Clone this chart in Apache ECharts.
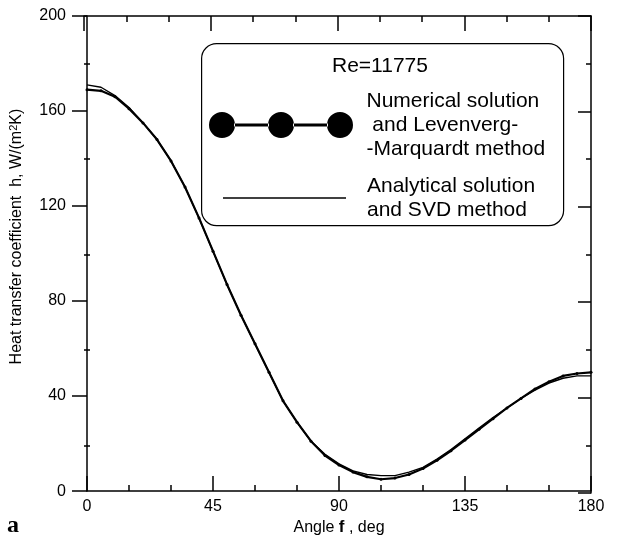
<!DOCTYPE html>
<html lang="en">
<head>
    <meta charset="utf-8">
    <script src="https://cdn.jsdelivr.net/npm/echarts@6/dist/echarts.min.js"></script>
</head>
<body style="margin:0;background:#fff">
<div id="main" style="width: 637px;height:541px;"></div>
<script type="text/javascript">
    // angle, deg
    var angles = [0, 5, 10, 15, 20, 25, 30, 35, 40, 45, 50, 55, 60, 65, 70, 75, 80, 85, 90,
        95, 100, 105, 110, 115, 120, 125, 130, 135, 140, 145, 150, 155, 160, 165, 170, 175, 180];
    // numerical solution + Levenberg-Marquardt
    var hNumerical = [169, 168.5, 166, 161, 155, 148, 139, 128, 115, 101, 87, 74, 62, 50, 38, 29, 21, 15, 11,
        8, 6, 5, 5.5, 7, 9.5, 13, 17, 21.5, 26, 30.5, 35, 39, 43, 46, 48.5, 49.5, 50];
    // analytical solution + SVD
    var hAnalytical = [171, 170, 166.5, 161.5, 155, 148, 139, 128, 115, 101, 87, 74, 62, 50, 38, 29, 21, 15.5, 11.5,
        8.5, 7, 6.5, 6.5, 8, 10, 13.5, 17.5, 22, 26.5, 31, 35, 39, 42.5, 45.5, 47.5, 48.5, 48.5];
    var legendNames = ['Numerical solution\n and Levenverg-\n-Marquardt method', 'Analytical solution\nand SVD method'];

    var myChart = echarts.init(document.getElementById('main'));

    var font = 'Liberation Sans, Arial, sans-serif';
    var dotsIcon = 'path://M0,13a13,13 0 1,0 26,0a13,13 0 1,0 -26,0Z' +
        'M25,11.5H60V14.5H25Z' +
        'M59,13a13,13 0 1,0 26,0a13,13 0 1,0 -26,0Z' +
        'M84,11.5H119V14.5H84Z' +
        'M118,13a13,13 0 1,0 26,0a13,13 0 1,0 -26,0Z';

    var grid = {left: 84, top: 16, right: 46, bottom: 48};
    var black = {color: '#000', width: 1.5};

    var option = {
        backgroundColor: '#fff',
        animation: false,
        grid: [grid, grid],
        legend: [{
            data: [legendNames[0]],
            left: 204, top: 84,
            itemWidth: 161, itemHeight: 26,
            icon: dotsIcon,
            itemStyle: {color: '#000', borderWidth: 0},
            textStyle: {fontFamily: font, fontSize: 21, lineHeight: 24, color: '#000'}
        }, {
            data: [legendNames[1]],
            left: 218, top: 169,
            itemWidth: 155, itemHeight: 1.5,
            icon: 'path://M0,0H123V1.5H0Z',
            itemStyle: {color: '#000', borderWidth: 0},
            textStyle: {fontFamily: font, fontSize: 21, lineHeight: 24, color: '#000'}
        }],
        graphic: [{
            type: 'rect', left: 201, top: 43, z: 0,
            shape: {width: 362, height: 182, r: 15},
            style: {fill: '#fff', stroke: '#000', lineWidth: 1.2}
        }, {
            type: 'text', left: 332, top: 56,
            style: {text: 'Re=11775', font: '21px ' + font, fill: '#000'}
        }, {
            type: 'text', left: 7, top: 514,
            style: {text: 'a', font: 'bold 24px Liberation Serif, Times New Roman, serif', fill: '#000'}
        }],
        xAxis: [{
            gridIndex: 0, type: 'value', position: 'bottom',
            min: 0, max: 180, interval: 45,
            name: 'Angle {b|f} , deg', nameLocation: 'middle', nameGap: 26,
            nameTextStyle: {fontFamily: font, fontSize: 16, color: '#000',
                rich: {b: {fontFamily: font, fontSize: 17, fontWeight: 'bold', color: '#000'}}},
            axisLine: {onZero: false, lineStyle: black},
            axisTick: {inside: true, length: 15, lineStyle: black},
            minorTick: {show: true, splitNumber: 3, length: 6, lineStyle: black},
            axisLabel: {margin: 7, fontFamily: font, fontSize: 16, color: '#000'},
            splitLine: {show: false}
        }, {
            gridIndex: 1, type: 'value', position: 'top',
            min: 0, max: 180, interval: 45,
            axisLine: {onZero: false, lineStyle: black},
            axisTick: {inside: true, length: 15, lineStyle: black},
            minorTick: {show: true, splitNumber: 3, length: 6, lineStyle: black},
            axisLabel: {show: false},
            splitLine: {show: false}
        }],
        yAxis: [{
            gridIndex: 0, type: 'value', position: 'left',
            min: 0, max: 200, interval: 40,
            name: 'Heat transfer coefficient  h, W/(m{s|2}K)', nameLocation: 'middle', nameGap: 61,
            nameTextStyle: {fontFamily: font, fontSize: 16, color: '#000', padding: [0, 0, 0, 34],
                rich: {s: {fontFamily: font, fontSize: 11, color: '#000', verticalAlign: 'top', padding: [0, 0, 7, 0]}}},
            axisLine: {onZero: false, lineStyle: black},
            axisTick: {inside: false, length: 15, lineStyle: black},
            axisLabel: {margin: 21, fontFamily: font, fontSize: 16, color: '#000'},
            splitLine: {show: false}
        }, {
            gridIndex: 1, type: 'value', position: 'left',
            min: 0, max: 200, interval: 40,
            axisLine: {show: false, onZero: false},
            axisTick: {show: false, inside: true},
            minorTick: {show: true, splitNumber: 2, length: 6, lineStyle: black},
            axisLabel: {show: false},
            splitLine: {show: false}
        }, {
            gridIndex: 1, type: 'value', position: 'right',
            min: 0, max: 200, interval: 40,
            axisLine: {onZero: false, lineStyle: black},
            axisTick: {inside: true, length: 13, lineStyle: black},
            minorTick: {show: true, splitNumber: 2, length: 5, lineStyle: black},
            axisLabel: {show: false},
            splitLine: {show: false}
        }],
        series: [{
            name: legendNames[0],
            type: 'line',
            xAxisIndex: 0, yAxisIndex: 0,
            data: angles.map(function (a, i) { return [a, hNumerical[i]]; }),
            symbol: 'circle', symbolSize: 3, showSymbol: true,
            itemStyle: {color: '#000'},
            lineStyle: {color: '#000', width: 2.2}
        }, {
            name: legendNames[1],
            type: 'line',
            xAxisIndex: 0, yAxisIndex: 0,
            data: angles.map(function (a, i) { return [a, hAnalytical[i]]; }),
            symbol: 'none',
            itemStyle: {color: '#000'},
            lineStyle: {color: '#000', width: 1.4}
        }]
    };

    myChart.setOption(option);
</script>
</body>
</html>
